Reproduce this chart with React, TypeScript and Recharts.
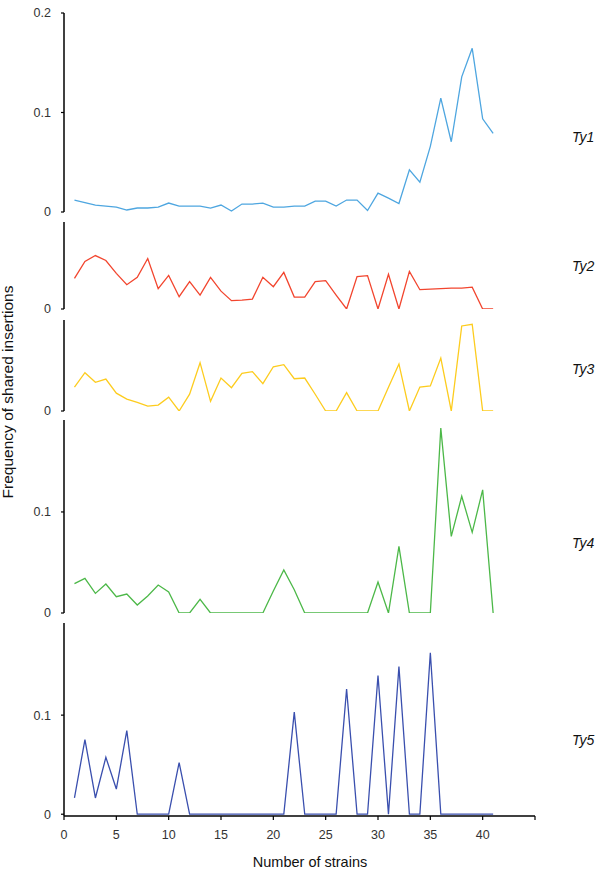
import React from 'react';
import { LineChart, Line, XAxis, YAxis } from 'recharts';

const strains = [1,2,3,4,5,6,7,8,9,10,11,12,13,14,15,16,17,18,19,20,21,22,23,24,25,26,27,28,29,30,31,32,33,34,35,36,37,38,39,40,41];

const ty1 = [0.012,0.0095,0.007,0.006,0.005,0.002,0.004,0.004,0.005,0.009,0.006,0.006,0.006,0.004,0.007,0.001,0.008,0.008,0.009,0.005,0.005,0.006,0.006,0.011,0.011,0.006,0.012,0.012,0.0015,0.019,0.014,0.0085,0.0425,0.030,0.066,0.1145,0.0706,0.1358,0.1645,0.0936,0.079];
const ty2 = [0.031,0.048,0.054,0.049,0.036,0.0245,0.032,0.051,0.0205,0.034,0.0124,0.0276,0.014,0.032,0.018,0.0084,0.009,0.010,0.032,0.0225,0.037,0.012,0.012,0.0276,0.0286,0.014,0,0.0327,0.0337,0,0.035,0,0.038,0.0195,0.020,0.0205,0.021,0.021,0.022,0,0];
const ty3 = [0.024,0.0387,0.029,0.0323,0.018,0.012,0.0088,0.005,0.006,0.014,0,0.017,0.0488,0.0098,0.0333,0.0235,0.038,0.0397,0.0276,0.0447,0.0468,0.0326,0.0333,0.0169,0,0,0.0185,0,0,0,0.024,0.0475,0,0.0242,0.0253,0.0535,0,0.0859,0.0876,0,0];
const ty4 = [0.029,0.0343,0.0194,0.0287,0.0161,0.0188,0.0079,0.0168,0.0277,0.0208,0,0,0.0135,0,0,0,0,0,0,0.0218,0.0426,0.023,0,0,0,0,0,0,0,0.0307,0,0.066,0,0,0,0.183,0.0758,0.1155,0.0798,0.1218,0];
const ty5 = [0.0164,0.0754,0.0164,0.0574,0.0254,0.0844,0,0,0,0,0.052,0,0,0,0,0,0,0,0,0,0,0.103,0,0,0,0,0.1264,0,0,0.140,0,0.149,0,0,0.163,0,0,0,0,0,0];

const xTicks = [0, 5, 10, 15, 20, 25, 30, 35, 40, 45];
const seriesNames = ['Ty1', 'Ty2', 'Ty3', 'Ty4', 'Ty5'];
const colors = ['#4ea6e0', '#f2452e', '#fdcc1e', '#4cb848', '#3a4fae'];

const FONT = '"Liberation Sans", Arial, sans-serif';

type PanelProps = {
  plotTop: number;
  plotBottom: number;
  domainMin?: number;
  domainMax: number;
  yTicks: number[];
  values: number[];
  color: string;
  showX?: boolean;
};

function Panel({ plotTop, plotBottom, domainMin = 0, domainMax, yTicks, values, color, showX }: PanelProps) {
  const data = strains.map((s, i) => ({ x: s, v: values[i] }));
  const topMargin = 10;
  const plotH = plotBottom - plotTop;
  const xAxisH = 40;
  const height = showX ? 870 - (plotTop - topMargin) : topMargin + plotH + 12;
  const bottomMargin = showX ? height - topMargin - plotH - xAxisH : 12;
  return (
    <div style={{ position: 'absolute', left: 0, top: plotTop - topMargin }}>
      <LineChart
        width={600}
        height={height}
        data={data}
        margin={{ top: topMargin, right: 65, bottom: bottomMargin, left: 14 }}
      >
        <XAxis
          type="number"
          dataKey="x"
          domain={[0, 45]}
          ticks={xTicks}
          interval={0}
          hide={!showX}
          height={xAxisH}
          tickSize={4}
          tickMargin={10}
          axisLine={{ stroke: '#000', strokeWidth: 1.5 }}
          tickLine={{ stroke: '#000', strokeWidth: 1.2 }}
          tick={{ fill: '#333', fontSize: 12.5, fontFamily: FONT }}
          tickFormatter={(v: number) => (v === 45 ? '' : String(v))}
        />
        <YAxis
          type="number"
          domain={[domainMin, domainMax]}
          ticks={yTicks}
          allowDataOverflow
          width={50}
          tickSize={3}
          tickMargin={10}
          interval={0}
          axisLine={{ stroke: '#000', strokeWidth: 1.5 }}
          tickLine={{ stroke: '#000', strokeWidth: 1.2 }}
          tick={{ fill: '#333', fontSize: 12.5, fontFamily: FONT }}
        />
        <Line
          type="linear"
          dataKey="v"
          stroke={color}
          strokeWidth={1.3}
          dot={false}
          isAnimationActive={false}
        />
      </LineChart>
    </div>
  );
}

export default function App() {
  return (
    <div style={{ position: 'absolute', left: 0, top: 0, width: 600, height: 870, overflow: 'hidden', background: '#fff' }}>
      <Panel plotTop={13} plotBottom={212} domainMax={0.2} yTicks={[0, 0.1, 0.2]} values={ty1} color={colors[0]} />
      <Panel plotTop={222} plotBottom={309} domainMax={0.0879} yTicks={[0]} values={ty2} color={colors[1]} />
      <Panel plotTop={320} plotBottom={411} domainMax={0.0919} yTicks={[0]} values={ty3} color={colors[2]} />
      <Panel plotTop={420} plotBottom={613} domainMax={0.191} yTicks={[0, 0.1]} values={ty4} color={colors[3]} />
      <Panel plotTop={623} plotBottom={816} domainMin={-0.0018} domainMax={0.193} yTicks={[0, 0.1]} values={ty5} color={colors[4]} showX />
      <svg width={600} height={870} style={{ position: 'absolute', left: 0, top: 0, pointerEvents: 'none' }}>
        <text transform="translate(13,392) rotate(-90)" textAnchor="middle" fontFamily={FONT} fontSize={15.5} fill="#111">
          Frequency of shared insertions
        </text>
        <text x={310} y={867} textAnchor="middle" fontFamily={FONT} fontSize={14.5} fill="#111">
          Number of strains
        </text>
        {seriesNames.map((n, i) => (
          <text key={n} x={572} y={[142, 270.5, 373.5, 547.5, 744.5][i]} fontFamily={FONT} fontSize={14} fontStyle="italic" fill="#111">
            {n}
          </text>
        ))}
      </svg>
    </div>
  );
}
